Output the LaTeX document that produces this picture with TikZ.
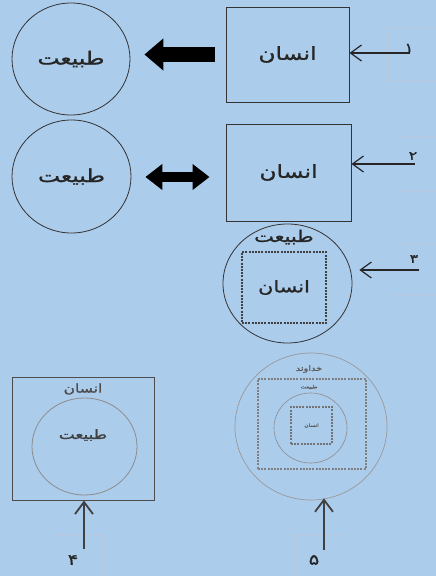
\documentclass[tikz,border=0pt]{standalone}
\usepackage{fontspec}
\newfontfamily\arabicfont[Script=Arabic, FakeStretch=1.3, FakeBold=1.2]{DejaVu Sans}
\TeXXeTstate=1
\usetikzlibrary{arrows.meta, shapes.geometric}
\definecolor{bgblue}{RGB}{172,204,236}
\definecolor{tagline}{RGB}{184,200,220}
\newcommand{\fa}[1]{{\arabicfont\beginR #1\endR}}

\begin{document}
\begin{tikzpicture}[x=1pt,y=-1pt,
		naturevertex/.style={ellipse,draw=black!80,line width=0.8pt,inner sep=0pt},
		humanvertex/.style={rectangle,draw=black!80,line width=1pt,inner sep=0pt},
		dashvertex/.style={rectangle,draw=black!75,dash pattern=on 2pt off 1.2pt,line width=1.1pt,inner sep=0pt},
		tagvertex/.style={rectangle,draw=tagline,line width=0.7pt,inner sep=0pt},
		pointer/.style={draw=black!85,line width=1.2pt,-{Straight Barb[length=11pt,width=16pt]}},
		uppointer/.style={draw=black!75,line width=1.8pt,-{Straight Barb[length=12pt,width=18pt]}},
		txt/.style={inner sep=0pt,font=\fontsize{18}{21}\selectfont,text=black!85}
		]
		\fill[bgblue] (0,0) rectangle (436,576);
		\useasboundingbox (0,0) rectangle (436,576);

		\node[naturevertex, minimum width=118pt, minimum height=112pt](N1) at (71,59){};
		\node[txt] at (N1){\fa{طبیعت}};
		\node[humanvertex, minimum width=123pt, minimum height=95pt](H1) at (287.5,54.5){};
		\node[txt] at (H1){\fa{انسان}};
		\node[tagvertex, minimum width=48pt, minimum height=53pt](T1) at (412,53.5){};
		\node[txt, font=\fontsize{13}{15}\selectfont] at (409,48){\fa{۱}};
		\coordinate (A1) at (410,53);
		\draw[pointer] (A1) -- (H1.east |- A1);
		\draw[line width=15pt, black, -{Triangle[length=19pt,width=31pt]}, shorten <=11pt, shorten >=14pt] (H1.west) -- (N1.east |- H1.west);

		\node[naturevertex, minimum width=119pt, minimum height=113pt](N2) at (71.5,176.5){};
		\node[txt] at (N2){\fa{طبیعت}};
		\node[humanvertex, minimum width=125pt, minimum height=97pt](H2) at (288.5,172.5){};
		\node[txt] at (H2){\fa{انسان}};
		\node[tagvertex, minimum width=41pt, minimum height=55pt](T2) at (415.5,163.5){};
		\node[txt, font=\fontsize{12}{14}\selectfont] at (413,156){\fa{۲}};
		\coordinate (A2) at (415,164);
		\draw[pointer] (A2) -- (H2.east |- A2);
		\draw[line width=10pt, black, {Triangle[length=17pt,width=25pt]}-{Triangle[length=17pt,width=25pt]}, shorten <=16pt, shorten >=14pt] (H2.west |- 0,177) -- (N2.east |- 0,177);

		\node[naturevertex, minimum width=129pt, minimum height=119pt](N3) at (287.5,283.5){};
		\node[txt, font=\fontsize{16}{18}\selectfont] at (284,237){\fa{طبیعت}};
		\node[dashvertex, minimum width=84pt, minimum height=71pt](H3) at (284,287.5){};
		\node[txt, font=\fontsize{16}{18}\selectfont] at (H3){\fa{انسان}};
		\node[tagvertex, minimum width=43pt, minimum height=52pt](T3) at (414.5,269){};
		\node[txt, font=\fontsize{12}{14}\selectfont] at (414,259){\fa{۳}};
		\coordinate (A3) at (419,270);
		\draw[pointer, shorten >=7pt] (A3) -- (N3.east |- A3);

		\node[humanvertex, draw=black!70, minimum width=142pt, minimum height=123pt](H4) at (83,438.5){};
		\node[txt, font=\fontsize{12}{14}\selectfont, text=black!70] at (83,389){\fa{انسان}};
		\node[naturevertex, draw=black!45, minimum width=105pt, minimum height=97pt](N4) at (84.5,446.5){};
		\node[txt, font=\fontsize{13}{15}\selectfont, text=black!75] at (83,435){\fa{طبیعت}};
		\node[tagvertex, minimum width=47pt, minimum height=41pt](T4) at (78.5,555.5){};
		\node[txt, font=\fontsize{15}{17}\selectfont] at (73,560){\fa{۴}};
		\coordinate (A4) at (84,549);
		\draw[uppointer] (A4) -- (A4 |- H4.south);

		\node[naturevertex, draw=black!40, line width=0.7pt, minimum width=152pt, minimum height=147pt](G5) at (311,426.5){};
		\node[txt, font=\fontsize{7.5}{9}\selectfont, text=black!65] at (309,369){\fa{خداوند}};
		\node[dashvertex, draw=black!50, minimum width=108pt, minimum height=90pt](D5) at (312,424){};
		\node[naturevertex, draw=black!45, line width=0.6pt, minimum width=73pt, minimum height=70pt](N5) at (310.5,428){};
		\node[txt, font=\fontsize{4.5}{5}\selectfont, text=black!65] at (309,387){\fa{طبیعت}};
		\node[dashvertex, draw=black!55, minimum width=41pt, minimum height=37pt](H5) at (311.5,425.5){};
		\node[txt, font=\fontsize{4.5}{5}\selectfont, text=black!65] at (H5){\fa{انسان}};
		\node[tagvertex, minimum width=47pt, minimum height=41pt](T5) at (317.5,555.5){};
		\node[txt, font=\fontsize{15}{17}\selectfont] at (314,560){\fa{۵}};
		\coordinate (A5) at (324,550);
		\draw[uppointer, shorten >=-2pt] (A5) -- (A5 |- G5.south);

	\end{tikzpicture}
\end{document}
